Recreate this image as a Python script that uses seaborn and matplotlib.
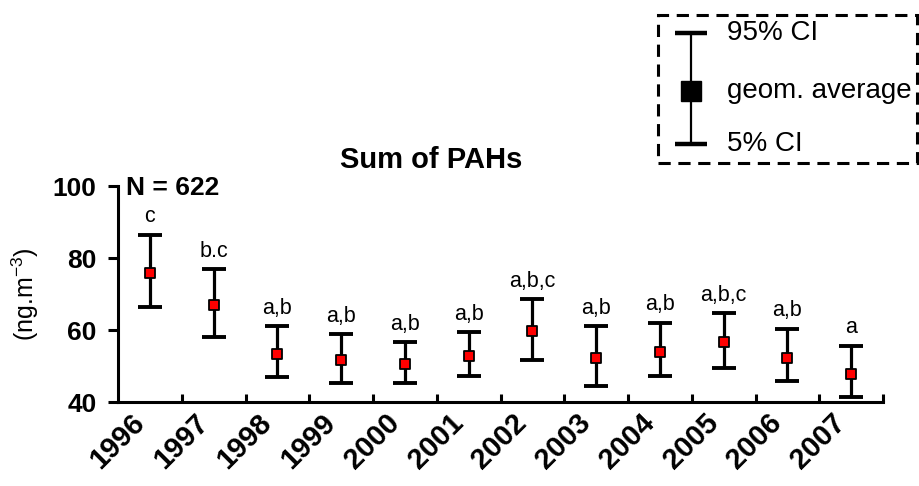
import numpy as np
import pandas as pd
import seaborn as sns
import matplotlib.pyplot as plt
from matplotlib.patches import Rectangle

years = ['1996', '1997', '1998', '1999', '2000', '2001',
         '2002', '2003', '2004', '2005', '2006', '2007']
geom_avg = [75.7, 66.9, 53.3, 51.7, 50.6, 52.9, 59.8, 52.3, 54.0, 56.6, 52.3, 47.8]
ci_95 = [86.4, 76.9, 61.1, 58.8, 56.6, 59.4, 68.5, 61.1, 62.0, 64.6, 60.3, 55.6]
ci_5 = [66.5, 58.1, 46.9, 45.4, 45.2, 47.2, 51.7, 44.5, 47.2, 49.5, 45.8, 41.3]
groups = ['c', 'b.c', 'a,b', 'a,b', 'a,b', 'a,b', 'a,b,c', 'a,b', 'a,b', 'a,b,c', 'a,b', 'a']

df = pd.DataFrame({'year': years, 'avg': geom_avg, 'hi': ci_95, 'lo': ci_5})
df['pos'] = np.arange(len(df))

sns.set_style('ticks')
plt.rcParams['font.family'] = ['Liberation Sans', 'DejaVu Sans']
plt.rcParams['mathtext.fontset'] = 'custom'
plt.rcParams['mathtext.rm'] = 'Liberation Sans'
plt.rcParams['mathtext.it'] = 'Liberation Sans'
for k in ['text.color', 'axes.labelcolor', 'xtick.color', 'ytick.color', 'axes.edgecolor']:
    plt.rcParams[k] = 'black'

fig = plt.figure(figsize=(9.2, 4.86), dpi=100)
ax = fig.add_axes([118 / 920, 1 - 402 / 486, (883 - 118) / 920, (402 - 186) / 486])

# confidence intervals
ax.errorbar(df['pos'], df['avg'],
            yerr=[df['avg'] - df['lo'], df['hi'] - df['avg']],
            fmt='none', ecolor='black', elinewidth=2.3, capsize=8.3, capthick=2.8, zorder=2)
# geometric averages
sns.scatterplot(data=df, x='pos', y='avg', marker='s', s=50, color='red',
                edgecolor='black', linewidth=1.3, ax=ax, zorder=3, legend=False)

for x, top, lab in zip(df['pos'], df['hi'], groups):
    ax.annotate(lab, (x, top), xytext=(0, 9), textcoords='offset points',
                ha='center', va='baseline', fontsize=15.5)

ax.set_xlim(-0.5, 11.5)
ax.set_ylim(40, 100)
ax.set_yticks([40, 60, 80, 100])
ax.set_xticks(df['pos'])
ax.set_xticklabels(years, rotation=45, ha='right', fontweight='bold', fontsize=21)
ax.set_xticks(np.arange(0.5, 12, 1), minor=True)
ax.tick_params(axis='x', which='major', length=0, pad=5)
ax.tick_params(axis='x', which='minor', direction='in', length=6, width=2.2)
ax.tick_params(axis='y', direction='out', length=7.5, width=2.2, labelsize=19, pad=8)
for t in ax.get_yticklabels():
    t.set_fontweight('bold')
ax.set_xlabel('')
ax.set_ylabel(r'(ng.m$^{-3}$)', fontsize=18, labelpad=8)
for s in ['left', 'bottom']:
    ax.spines[s].set_linewidth(2.2)
sns.despine(ax=ax)

ax.text(0.01, 0.99, 'N = 622', transform=ax.transAxes, ha='left', va='center',
        fontsize=19, fontweight='bold')
fig.text(431 / 920, 1 - 160 / 486, 'Sum of PAHs', ha='center', va='center',
         fontsize=21, fontweight='bold')

# legend box
lx0, lx1, ly0, ly1 = 658 / 920, 917 / 920, 1 - 163 / 486, 1 - 15 / 486
fig.patches.append(Rectangle((lx0, ly0), lx1 - lx0, ly1 - ly0, transform=fig.transFigure,
                             fill=False, edgecolor='black', linewidth=2.2,
                             linestyle=(0, (4, 2.5))))
lax = fig.add_axes([lx0, ly0, lx1 - lx0, ly1 - ly0])
lax.set_xlim(0, 1)
lax.set_ylim(0, 1)
lax.axis('off')
lax.errorbar([0.127], [0.486], yerr=[[0.486 - 0.128], [0.878 - 0.486]], fmt='s',
             color='black', markersize=14, elinewidth=1.6, capsize=11.5, capthick=3.2)
for y, txt in zip([0.878, 0.486, 0.128], ['95% CI', 'geom. average', '5% CI']):
    lax.text(0.266, y, txt, ha='left', va='center', fontsize=20)

fig.savefig('out.png', dpi=100)
